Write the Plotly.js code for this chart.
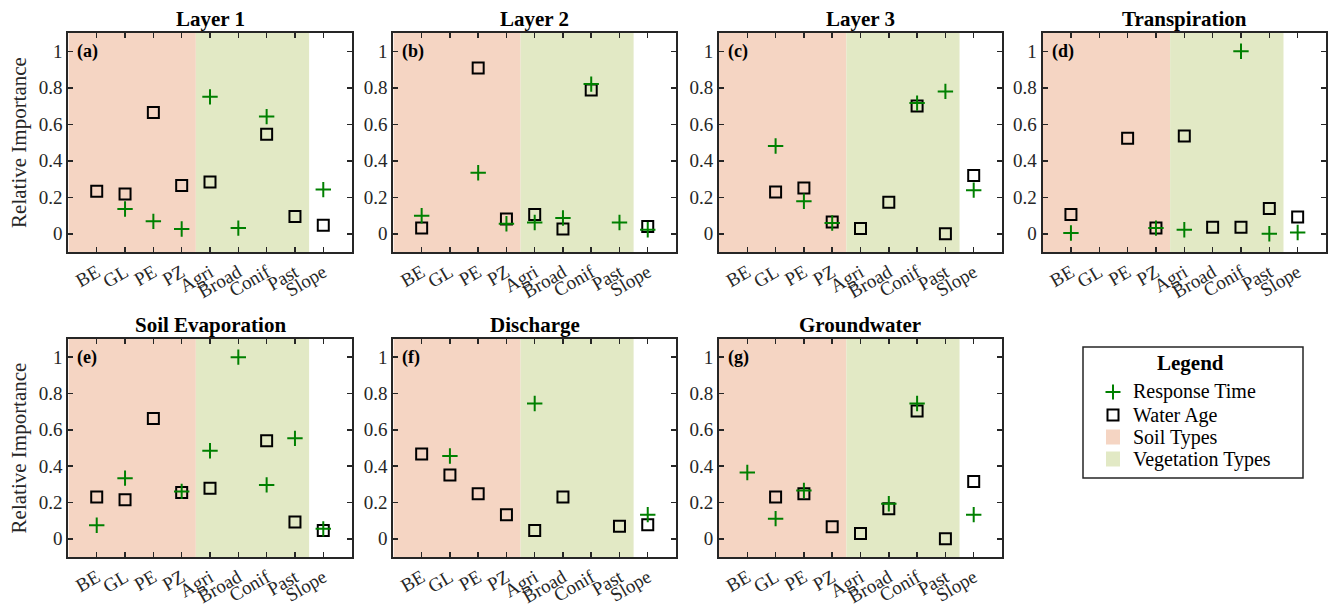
<!DOCTYPE html>
<html>
<head>
<meta charset="utf-8">
<script src="https://cdn.plot.ly/plotly-3.0.1.min.js"></script>
</head>
<body style="margin:0">
<div id="chart"></div>
<script>
// ---------------- data ----------------
const categories = ['BE', 'GL', 'PE', 'PZ', 'Agri', 'Broad', 'Conif', 'Past', 'Slope'];
const panelTitles = ['Layer 1', 'Layer 2', 'Layer 3', 'Transpiration', 'Soil Evaporation', 'Discharge', 'Groundwater'];
const panelLetters = ['(a)', '(b)', '(c)', '(d)', '(e)', '(f)', '(g)'];
const yTickVals = [0, 0.2, 0.4, 0.6, 0.8, 1];
const yTickText = ['0', '0.2', '0.4', '0.6', '0.8', '1'];
const legendLabels = ['Response Time', 'Water Age', 'Soil Types', 'Vegetation Types'];

// Response time (green plus) and water age (black square), per panel
const rtLayer1 = [null, 0.136, 0.068, 0.026, 0.75, 0.031, 0.642, null, 0.242];
const waLayer1 = [0.233, 0.218, 0.664, 0.264, 0.283, null, 0.545, 0.095, 0.046];
const rtLayer2 = [0.099, null, 0.334, 0.055, 0.062, 0.086, 0.82, 0.062, 0.022];
const waLayer2 = [0.031, null, 0.908, 0.081, 0.105, 0.026, 0.787, null, 0.04];
const rtLayer3 = [null, 0.481, 0.178, 0.059, null, null, 0.716, 0.78, 0.239];
const waLayer3 = [null, 0.229, 0.251, 0.064, 0.029, 0.172, 0.70, 0.0, 0.319];
const rtTranspiration = [0.004, null, null, 0.031, 0.022, null, 1.0, 0.0, 0.007];
const waTranspiration = [0.105, null, 0.523, 0.031, 0.536, 0.035, 0.035, 0.138, 0.092];
const rtSoilEvap = [0.075, 0.334, null, 0.261, 0.485, 1.0, 0.297, 0.553, 0.055];
const waSoilEvap = [0.23, 0.215, 0.662, 0.255, 0.279, null, 0.54, 0.093, 0.046];
const rtDischarge = [null, 0.456, null, null, 0.745, null, null, null, 0.133];
const waDischarge = [0.467, 0.352, 0.248, 0.133, 0.046, 0.23, null, 0.069, 0.078];
const rtGroundwater = [0.365, 0.111, 0.266, null, null, 0.193, 0.745, null, 0.133];
const waGroundwater = [null, 0.23, 0.248, 0.066, 0.029, 0.166, 0.704, 0.0, 0.316];

const rtSeries = [rtLayer1, rtLayer2, rtLayer3, rtTranspiration, rtSoilEvap, rtDischarge, rtGroundwater];
const waSeries = [waLayer1, waLayer2, waLayer3, waTranspiration, waSoilEvap, waDischarge, waGroundwater];

(function () {
  const figW = 1329, figH = 606;
  const serifFam = 'Liberation Serif';
  const axColor = '#262626';
  const greenColor = '#008000';
  const soilColor = 'rgb(245,213,195)';
  const vegColor = 'rgb(226,233,197)';
  const toPX = p => p / figW;
  const toPY = p => 1 - p / figH;

  const colSpans = [[68.4, 351.6], [393.4, 676], [719, 1002], [1042.6, 1326]];
  const rowSpans = [[33, 252], [339, 557]];

  const data = [];
  const lay = {
    width: figW, height: figH,
    margin: {l: 0, r: 0, t: 0, b: 0},
    paper_bgcolor: '#ffffff', plot_bgcolor: '#ffffff',
    font: {family: serifFam, color: axColor, size: 19},
    showlegend: false,
    shapes: [], annotations: []
  };

  for (let i = 0; i < 7; i++) {
    const r = i < 4 ? 0 : 1;
    const c = i < 4 ? i : i - 4;
    const s = i === 0 ? '' : String(i + 1);
    const xa = 'x' + s, ya = 'y' + s;

    data.push({
      type: 'scatter', mode: 'markers', x: categories, y: waSeries[i],
      xaxis: xa, yaxis: ya, name: legendLabels[1],
      marker: {symbol: 'square-open', size: 11, color: '#000', line: {width: 2, color: '#000'}}
    });
    data.push({
      type: 'scatter', mode: 'markers', x: categories, y: rtSeries[i],
      xaxis: xa, yaxis: ya, name: legendLabels[0],
      marker: {symbol: 'cross-thin-open', size: 11, color: greenColor, line: {width: 2, color: greenColor}}
    });

    const common = {
      showline: true, linewidth: 2, linecolor: axColor, mirror: 'ticks',
      ticks: 'inside', ticklen: 5, tickwidth: 1.5, tickcolor: axColor,
      showgrid: false, zeroline: false, fixedrange: true
    };
    lay['xaxis' + s] = Object.assign({}, common, {
      domain: [toPX(colSpans[c][0]), toPX(colSpans[c][1])], anchor: ya,
      type: 'category', categoryorder: 'array', categoryarray: categories,
      tickmode: 'array', tickvals: categories, ticktext: categories,
      range: [-1, categories.length], tickangle: -30,
      tickfont: {family: serifFam, size: 19, color: axColor}
    });
    lay['yaxis' + s] = Object.assign({}, common, {
      domain: [toPY(rowSpans[r][1]), toPY(rowSpans[r][0])], anchor: xa,
      range: [-0.1, 1.1], tickmode: 'array', tickvals: yTickVals, ticktext: yTickText,
      tickfont: {family: serifFam, size: 19, color: axColor},
      title: (c === 0) ? {text: 'Relative Importance', font: {family: serifFam, size: 21, color: axColor}, standoff: 6} : {text: ''}
    });

    lay.shapes.push({type: 'rect', xref: xa, yref: ya + ' domain', x0: -1, x1: 3.5, y0: 0, y1: 1,
      fillcolor: soilColor, line: {width: 0}, layer: 'below'});
    lay.shapes.push({type: 'rect', xref: xa, yref: ya + ' domain', x0: 3.5, x1: 7.5, y0: 0, y1: 1,
      fillcolor: vegColor, line: {width: 0}, layer: 'below'});

    lay.annotations.push({text: '<b>' + panelTitles[i] + '</b>', xref: xa + ' domain', yref: ya + ' domain',
      x: 0.5, y: 1, xanchor: 'center', yanchor: 'bottom', yshift: 0, showarrow: false,
      font: {family: serifFam, size: 21, color: '#000'}});
    lay.annotations.push({text: '<b>' + panelLetters[i] + '</b>', xref: xa + ' domain', yref: ya,
      x: 0, y: 1, xanchor: 'left', yanchor: 'middle', xshift: 7, showarrow: false,
      font: {family: serifFam, size: 18, color: '#000'}});
  }

  // ---------------- legend box ----------------
  const box = {x0: 1083, x1: 1303, y0: 347, y1: 478};
  lay.shapes.push({type: 'rect', xref: 'paper', yref: 'paper', x0: toPX(box.x0), x1: toPX(box.x1), y0: toPY(box.y1), y1: toPY(box.y0),
    line: {color: axColor, width: 1.5}, fillcolor: 'rgba(255,255,255,0)'});
  lay.annotations.push({text: '<b>Legend</b>', xref: 'paper', yref: 'paper', x: toPX(1190), y: toPY(363),
    xanchor: 'center', yanchor: 'middle', showarrow: false, font: {family: serifFam, size: 21, color: '#000'}});
  const itemY = [392, 415, 437, 459];
  const symX = 1113, txtX = 1131;
  lay.shapes.push({type: 'path', xref: 'paper', yref: 'paper',
    path: `M${toPX(symX - 7.5)},${toPY(itemY[0])} L${toPX(symX + 7.5)},${toPY(itemY[0])} M${toPX(symX)},${toPY(itemY[0] - 7.5)} L${toPX(symX)},${toPY(itemY[0] + 7.5)}`,
    line: {color: greenColor, width: 2}});
  lay.shapes.push({type: 'rect', xref: 'paper', yref: 'paper', x0: toPX(symX - 5.5), x1: toPX(symX + 5.5), y0: toPY(itemY[1] + 5.5), y1: toPY(itemY[1] - 5.5),
    line: {color: '#000', width: 2}});
  [soilColor, vegColor].forEach((col, k) => {
    const yy = itemY[2 + k];
    lay.shapes.push({type: 'rect', xref: 'paper', yref: 'paper', x0: toPX(symX - 7), x1: toPX(symX + 7), y0: toPY(yy + 7.5), y1: toPY(yy - 7.5),
      line: {width: 0}, fillcolor: col});
  });
  legendLabels.forEach((t, k) => {
    lay.annotations.push({text: t, xref: 'paper', yref: 'paper', x: toPX(txtX), y: toPY(itemY[k]),
      xanchor: 'left', yanchor: 'middle', showarrow: false, font: {family: serifFam, size: 20, color: '#000'}});
  });

  Plotly.newPlot('chart', data, lay, {displayModeBar: false, staticPlot: true});
})();
</script>
</body>
</html>
